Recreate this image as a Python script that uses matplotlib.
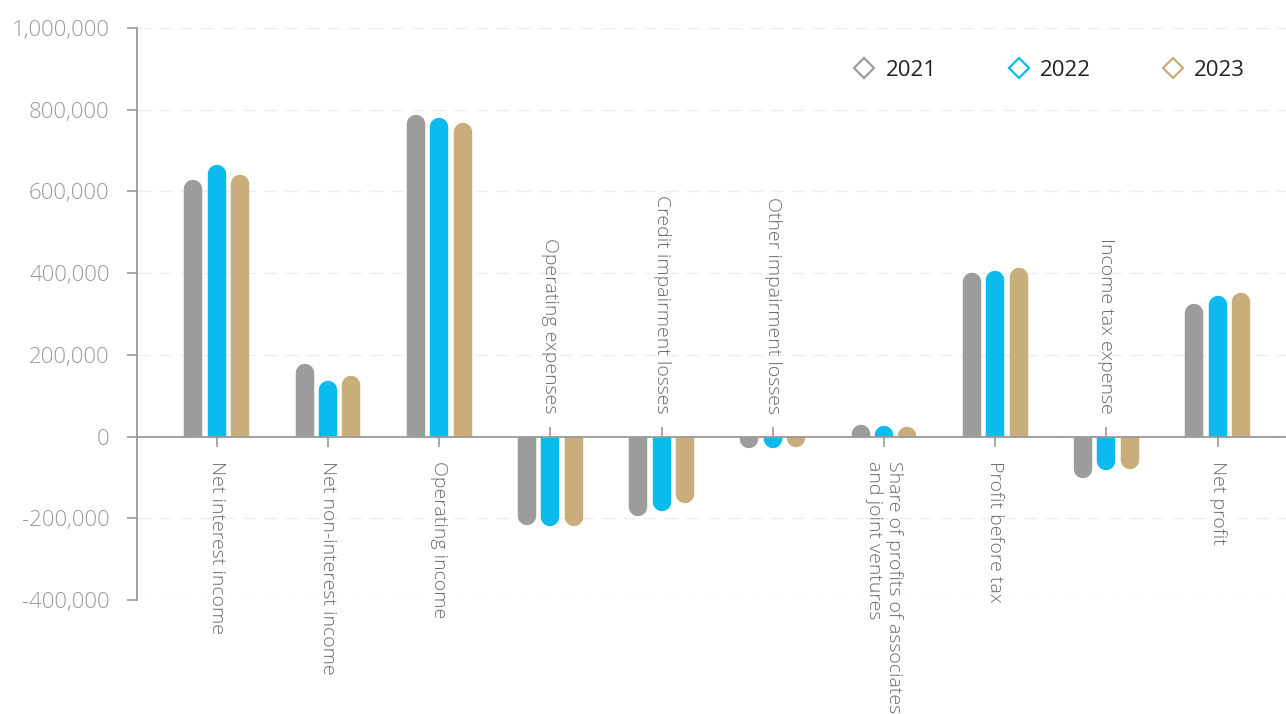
import numpy as np
import matplotlib
matplotlib.use('Agg')
import matplotlib.pyplot as plt
from matplotlib.patches import Rectangle
from matplotlib.lines import Line2D
from matplotlib.ticker import FuncFormatter

plt.rcParams['font.family'] = ['Open Sans', 'DejaVu Sans']

# ---------------- data ----------------
categories = ['Net interest income', 'Net non-interest income', 'Operating income',
              'Operating expenses', 'Credit impairment losses', 'Other impairment losses',
              'Share of profits of associates\nand joint ventures', 'Profit before tax',
              'Income tax expense', 'Net profit']
years = ['2021', '2022', '2023']
v2021 = [628000, 178000, 788000, -216000, -194000, -28000, 29000, 400000, -101000, 325000]
v2022 = [666000, 136000, 781000, -220000, -182000, -28000, 27000, 406000, -82000, 345000]
v2023 = [641000, 150000, 769000, -220000, -163000, -25000, 24000, 412000, -81000, 352000]
yticks = [-400000, -200000, 0, 200000, 400000, 600000, 800000, 1000000]

# ---------------- style ----------------
colors = ['#9c9c9c', '#0bbbef', '#c9ae7c']
axis_col = '#9a9a9a'
label_col = '#6a6a6a'
dpi = 100
bar_lw = 13.3          # pt, bar thickness
bar_step = 0.211       # offset between bars of one group

fig = plt.figure(figsize=(12.86, 7.14), dpi=dpi)
ax = fig.add_axes([137/1286, 114/714, 1149/1286, 572/714])
ax.set_xlim(-0.718, 9.615)
ax.set_ylim(-400000, 1000000)

# radius of the round cap in data units
ax_h_px = fig.get_figheight() * dpi * ax.get_position().height
r_data = bar_lw * dpi / 72 / 2 * (1400000 / ax_h_px)

x = np.arange(len(categories))
series = [v2021, v2022, v2023]

# gridlines
ax.set_yticks(yticks)
ax.yaxis.grid(True, color='#eeeeee', linewidth=1, linestyle=(0, (9.4, 5.8)))
ax.set_axisbelow(True)

# bars: round-capped lines clipped at the zero line
for j, vals in enumerate(series):
    for i, v in enumerate(vals):
        xc = x[i] + (j - 1) * bar_step
        s = 1 if v >= 0 else -1
        ln, = ax.plot([xc, xc], [0, v - s * r_data], color=colors[j], lw=bar_lw,
                      solid_capstyle='round', zorder=3)
        clip = Rectangle((xc - 0.1, 0), 0.2, s * 2000000, transform=ax.transData)
        ln.set_clip_path(clip)

# zero line
ax.axhline(0, color=axis_col, lw=1.3, zorder=4)

# category labels and their little ticks on the zero line
for i, cat in enumerate(categories):
    neg = np.mean([s[i] for s in series]) < 0
    ax.plot(x[i], 0, marker=2 if neg else 3, markersize=7.2, color=axis_col,
            markeredgewidth=1.2, zorder=4, clip_on=False)
    ax.annotate(cat, xy=(x[i], 0), xytext=(0, 16.6 if neg else -17.6),
                textcoords='offset points', rotation=270, ha='center',
                va='bottom' if neg else 'top', rotation_mode='default',
                fontsize=14, color=label_col, fontweight='light',
                multialignment='left', linespacing=1.2, annotation_clip=False)

# axes
for sp in ['top', 'right', 'bottom']:
    ax.spines[sp].set_visible(False)
ax.spines['left'].set_color(axis_col)
ax.spines['left'].set_linewidth(1.3)
ax.set_xticks([])
ax.tick_params(axis='y', length=7.2, width=1.2, color=axis_col, labelcolor='#999999',
               labelsize=16, pad=12.5)
for t in ax.get_yticklabels():
    t.set_fontweight('light')
ax.yaxis.set_major_formatter(FuncFormatter(lambda v, p: '{:,.0f}'.format(v)))

# legend
handles = [Line2D([], [], linestyle='none', marker='D', markersize=10.5,
                  markerfacecolor='none', markeredgecolor=c, markeredgewidth=1.6)
           for c in colors]
leg = fig.legend(handles, years, loc='center right', bbox_to_anchor=(1245/1286, 1 - 70/714),
                 ncol=3, frameon=False, fontsize=16, handlelength=1.0,
                 handletextpad=0.45, columnspacing=3.2, borderpad=0, borderaxespad=0)
for t in leg.get_texts():
    t.set_color('#222222')

fig.savefig('out.png', dpi=dpi)
